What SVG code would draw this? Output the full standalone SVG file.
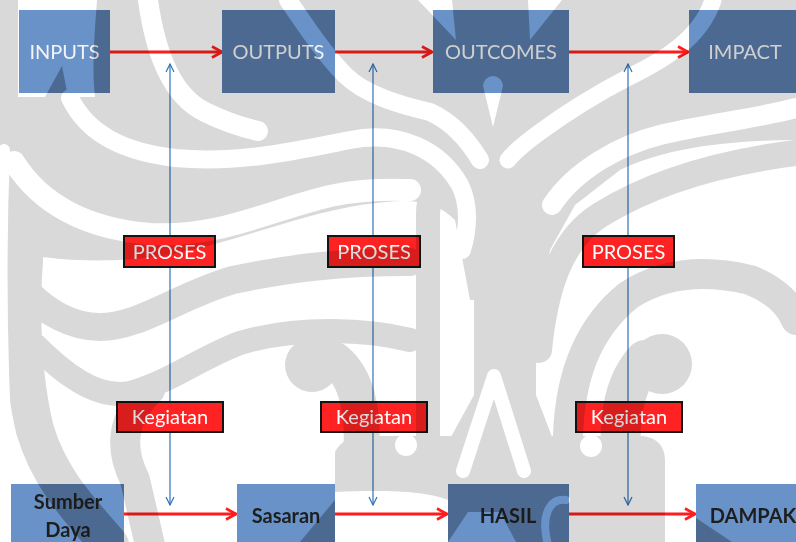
<svg xmlns="http://www.w3.org/2000/svg" width="796" height="542" viewBox="0 0 796 542">
  <style>
    .stage { fill: #6892c8; }
    .tint { fill: url(#emblemPat); mix-blend-mode: multiply; }
    .stage-top { fill: #f4f4f4; font-family: Lato, "Liberation Sans", sans-serif; font-size: 20px; text-anchor: middle; }
    .stage-bot { fill: #1e1e1e; font-family: Lato, "Liberation Sans", sans-serif; font-size: 20px; font-weight: bold; text-anchor: middle; }
    .tag { fill: #ff2222; stroke: #141414; stroke-width: 2; }
    .tag-text { fill: #ffffff; font-family: Lato, "Liberation Sans", sans-serif; font-size: 20px; text-anchor: middle; }
    .flow { stroke: #ff1c1c; stroke-width: 3; fill: none; marker-end: url(#redHead); }
    .link { stroke: #2e74b8; stroke-width: 1.2; fill: none; marker-start: url(#blueHead); marker-end: url(#blueHead); }
    .wm-gray { fill: #d9d9d9; }
    .wm-gband { fill: none; stroke: #d9d9d9; stroke-linecap: round; stroke-linejoin: round; }
    .wm-wband { fill: none; stroke: #ffffff; stroke-linecap: round; stroke-linejoin: round; }
    .wm-white { fill: #ffffff; }
    .blend { mix-blend-mode: multiply; }
  </style>
  <defs>
    <marker id="redHead" viewBox="0 0 14 14" refX="12" refY="7" markerWidth="14" markerHeight="14" markerUnits="userSpaceOnUse" orient="auto">
      <path d="M2,1.5 L12,7 L2,12.5" fill="none" stroke="#ff1c1c" stroke-width="2.6"/>
    </marker>
    <marker id="blueHead" viewBox="0 0 10 10" refX="9" refY="5" markerWidth="10" markerHeight="10" markerUnits="userSpaceOnUse" orient="auto-start-reverse">
      <path d="M1,1 L9,5 L1,9" fill="none" stroke="#2e74b8" stroke-width="1.2"/>
    </marker>
    <!-- faint emblem watermark -->
    <g id="emblem">
      <rect width="796" height="542" fill="#ffffff"/>
      <path class="wm-gray" d="M0,0 L796,0 L796,140 C720,140 660,150 620,170 L575,205 L550,250 L540,300 L470,300 L455,220 C430,195 400,200 360,205 C300,215 240,240 170,255 C100,265 50,260 0,250 Z"/>
      <g class="wm-gband">
        <path d="M35,180 C18,260 18,360 35,430 C50,480 80,510 110,545" stroke-width="38"/>
        <path d="M410,262 C340,262 290,268 233,280 C180,295 140,327 100,327 C70,327 45,310 30,295" stroke-width="28"/>
        <path d="M410,340 C370,330 300,325 240,343 C200,358 170,382 130,393 C95,400 60,370 35,345" stroke-width="24"/>
        <path d="M150,390 C120,420 120,450 135,480 L150,545" stroke-width="30"/>
        <path d="M539,350 C545,290 560,240 600,215 C640,190 700,165 796,153" stroke-width="26"/>
        <path d="M568,435 C570,380 585,330 629,295 C660,275 700,268 750,280 C775,290 790,305 796,320" stroke-width="30"/>
        <path d="M645,360 C618,390 615,440 628,505" stroke-width="40"/>
        <path d="M335,360 C360,380 365,420 360,470" stroke-width="36"/>
        <path d="M505,140 L505,420" stroke-width="62"/>
        <path d="M428,440 L428,215 C428,185 445,165 475,160" stroke-width="24"/>
      </g>
      <circle class="wm-gray" cx="662" cy="364" r="30"/>
      <circle class="wm-gray" cx="312" cy="365" r="27"/>
      <path class="wm-gray" d="M474,395 L536,395 L570,484 L425,484 Z"/>
      <path class="wm-gray" d="M335,452 C340,442 350,436 365,436 L640,436 C655,436 665,445 665,460 L665,542 L448,542 L448,500 C425,490 380,490 335,492 Z"/>
      <path class="wm-gray" d="M300,542 L335,500 L335,542 Z"/>
      <path class="wm-gray" d="M696,518 L732,542 L696,542 Z"/>
      <g class="wm-wband">
        <path d="M148,0 C155,50 170,95 205,112 C225,122 245,128 258,131" stroke-width="20"/>
        <path d="M70,98 C88,135 125,152 175,158 C240,164 300,150 350,140 C400,130 440,150 460,185 C470,205 468,230 462,250" stroke-width="18"/>
        <path d="M14,162 C38,200 80,228 150,234 C220,238 270,210 330,196 C370,188 395,190 410,190" stroke-width="22"/>
        <path d="M288,0 C305,25 325,55 345,75 C365,95 400,105 430,112 C452,122 468,140 480,160" stroke-width="18"/>
        <path d="M4,150 C0,250 0,350 8,480" stroke-width="12"/>
        <path d="M713,0 C700,40 660,62 629,77 C600,92 570,110 540,132 C525,143 514,152 508,160" stroke-width="17"/>
        <path d="M796,108 C760,118 700,125 660,135 C620,145 575,170 552,205" stroke-width="20"/>
        <path d="M463,471 L494,376 L524,471" stroke-width="14"/>
        <path d="M548,545 C540,515 550,498 566,500" stroke-width="8"/>
      </g>
      <g class="wm-white">
        <path d="M18,0 L97,0 C94,40 92,70 95,97 L68,97 L62,66 L45,97 L18,97 Z"/>
        <path d="M418,0 L452,0 L456,40 Z"/>
        <path d="M528,0 L562,0 L530,40 Z"/>
        <path d="M483,86 A10,10 0 0 1 503,86 L493,127 Z"/>
        <path d="M448,542 L468,512 L500,512 L516,542 Z"/>
        <circle cx="406" cy="445" r="11"/>
        <circle cx="591" cy="446" r="11"/>
      </g>
    </g>
    <pattern id="emblemPat" patternUnits="userSpaceOnUse" x="0" y="0" width="796" height="542">
      <use href="#emblem"/>
    </pattern>
  </defs>

  <rect width="796" height="542" fill="#ffffff"/>

  <!-- vertical links and horizontal flows -->
  <g id="connectors">
    <line class="link" x1="170" y1="64" x2="170" y2="505"/>
    <line class="link" x1="373" y1="64" x2="373" y2="505"/>
    <line class="link" x1="628" y1="64" x2="628" y2="505"/>
    <line class="flow" x1="110" y1="52" x2="222" y2="52"/>
    <line class="flow" x1="335" y1="52" x2="432" y2="52"/>
    <line class="flow" x1="569" y1="52" x2="688" y2="52"/>
    <line class="flow" x1="124" y1="514" x2="236" y2="514"/>
    <line class="flow" x1="335" y1="514" x2="447" y2="514"/>
    <line class="flow" x1="569" y1="514" x2="695" y2="514"/>
  </g>

  <!-- upper chain -->
  <g id="inputs"><rect class="stage" x="19" y="10" width="91" height="83"/><rect class="tint" x="19" y="10" width="91" height="83"/><text class="stage-top" x="64.5" y="59">INPUTS</text></g>
  <g id="outputs"><rect class="stage" x="222" y="10" width="113" height="83"/><rect class="tint" x="222" y="10" width="113" height="83"/><text class="stage-top" x="278.5" y="59">OUTPUTS</text></g>
  <g id="outcomes"><rect class="stage" x="433" y="10" width="136" height="83"/><rect class="tint" x="433" y="10" width="136" height="83"/><text class="stage-top" x="501" y="59">OUTCOMES</text></g>
  <g id="impact"><rect class="stage" x="689" y="10" width="107" height="83"/><rect class="tint" x="689" y="10" width="107" height="83"/><text class="stage-top" x="745" y="59">IMPACT</text></g>

  <!-- process labels -->
  <g id="proses-1"><rect class="tag" x="124" y="236" width="91" height="31"/><text class="tag-text" x="169.5" y="259">PROSES</text></g>
  <g id="proses-2"><rect class="tag" x="328" y="236" width="92" height="31"/><text class="tag-text" x="374" y="259">PROSES</text></g>
  <g id="proses-3"><rect class="tag" x="583" y="236" width="91" height="31"/><text class="tag-text" x="628.5" y="259">PROSES</text></g>
  <g id="kegiatan-1"><rect class="tag" x="117" y="402" width="106" height="30"/><text class="tag-text" x="170" y="424">Kegiatan</text></g>
  <g id="kegiatan-2"><rect class="tag" x="321" y="402" width="106" height="30"/><text class="tag-text" x="374" y="424">Kegiatan</text></g>
  <g id="kegiatan-3"><rect class="tag" x="576" y="402" width="106" height="30"/><text class="tag-text" x="629" y="424">Kegiatan</text></g>

  <!-- lower chain -->
  <g id="sumber-daya"><rect class="stage" x="11" y="484" width="113" height="58"/><rect class="tint" x="11" y="484" width="113" height="58"/><text class="stage-bot" x="68" y="509">Sumber</text><text class="stage-bot" x="68" y="537">Daya</text></g>
  <g id="sasaran"><rect class="stage" x="237" y="484" width="98" height="58"/><rect class="tint" x="237" y="484" width="98" height="58"/><text class="stage-bot" x="286" y="523">Sasaran</text></g>
  <g id="hasil"><rect class="stage" x="448" y="484" width="121" height="58"/><rect class="tint" x="448" y="484" width="121" height="58"/><text class="stage-bot" x="508" y="523">HASIL</text></g>
  <g id="dampak"><rect class="stage" x="696" y="484" width="100" height="58"/><rect class="tint" x="696" y="484" width="100" height="58"/><text class="stage-bot" x="753" y="523">DAMPAK</text></g>

  <!-- watermark tint over the whole slide -->
  <use href="#emblem" class="blend"/>
</svg>
